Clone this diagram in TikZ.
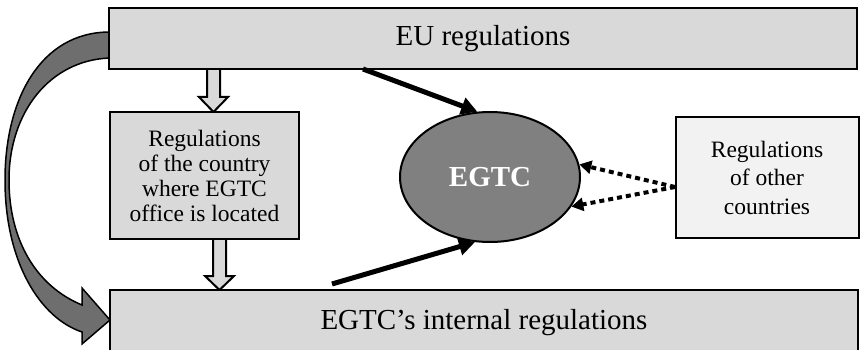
\documentclass[tikz,border=0pt]{standalone}
\usepackage{fontspec}
\setmainfont{Liberation Serif}
\usetikzlibrary{arrows.meta,calc,shapes.geometric}
\definecolor{boxgray}{HTML}{D9D9D9}
\definecolor{lightbox}{HTML}{F2F2F2}
\definecolor{ellgray}{HTML}{808080}
\definecolor{curvegray}{HTML}{6E6E6E}
\tikzset{
  regbox/.style={draw=black, line width=2pt, fill=boxgray, inner sep=0pt, align=center},
  solidarrow/.style={line width=5pt, -{Triangle[length=16pt,width=17pt]}},
  dotarrow/.style={line width=4pt, dash pattern=on 5pt off 4pt, -{Triangle[length=12pt,width=13pt]}},
  hollow/.style={draw=black, line width=2pt, fill=boxgray, line join=miter},
}
\begin{document}
\begin{tikzpicture}[x=1pt,y=-1pt]
\useasboundingbox (0,0) rectangle (860,350);
% curved arrow
\filldraw[fill=curvegray, draw=black, line width=1.5pt, line join=miter]
  (110,32) .. controls (40,32) and (5,100) .. (5,180)
  .. controls (5,262) and (40,318) .. (82,332)
  -- (82,344) -- (110,320) -- (82,288) -- (82,305)
  .. controls (36,286) and (9,240) .. (9,180)
  .. controls (9,112) and (50,60) .. (110,58) -- cycle;
% hollow block arrows
\filldraw[hollow] (207,69) -- (207,97) -- (199,97) -- (213.5,112) -- (228,97) -- (220,97) -- (220,69);
\filldraw[hollow] (213,239) -- (213,276) -- (205,276) -- (219.5,290) -- (234,276) -- (226,276) -- (226,239);
% boxes
\node[regbox, minimum width=748pt, minimum height=61pt, font=\fontsize{29}{32}\selectfont]
  (eu) at (483,38.5) {EU regulations};
\node[regbox, minimum width=189pt, minimum height=127pt, font=\fontsize{23.5}{25}\selectfont]
  (mid) at (204.5,175.5) {Regulations\\of the country\\where EGTC\\office is located};
\node[regbox, minimum width=748pt, minimum height=66pt, font=\fontsize{29}{32}\selectfont]
  (bot) at (484,323) {EGTC’s internal regulations};
\node[regbox, fill=lightbox, minimum width=183pt, minimum height=121pt, font=\fontsize{23.5}{28.5}\selectfont]
  (rb) at (767,177.5) {Regulations\\of other\\countries};
\node[ellipse, draw=black, line width=2pt, fill=ellgray, minimum width=180pt, minimum height=130pt,
  inner sep=0pt, text=white, font=\fontsize{29}{32}\selectfont\bfseries]
  (egtc) at (490,177) {EGTC};
% connectors
\coordinate (s1) at (363,69);
\coordinate (s2) at (332,284);
\coordinate (d0) at (675,187);
\draw[solidarrow] (s1) -- (egtc.101);
\draw[solidarrow] (s2) -- (egtc.-103);
\draw[dotarrow] (d0) -- (egtc.8);
\draw[dotarrow] (d0) -- (egtc.-20);
\end{tikzpicture}
\end{document}
